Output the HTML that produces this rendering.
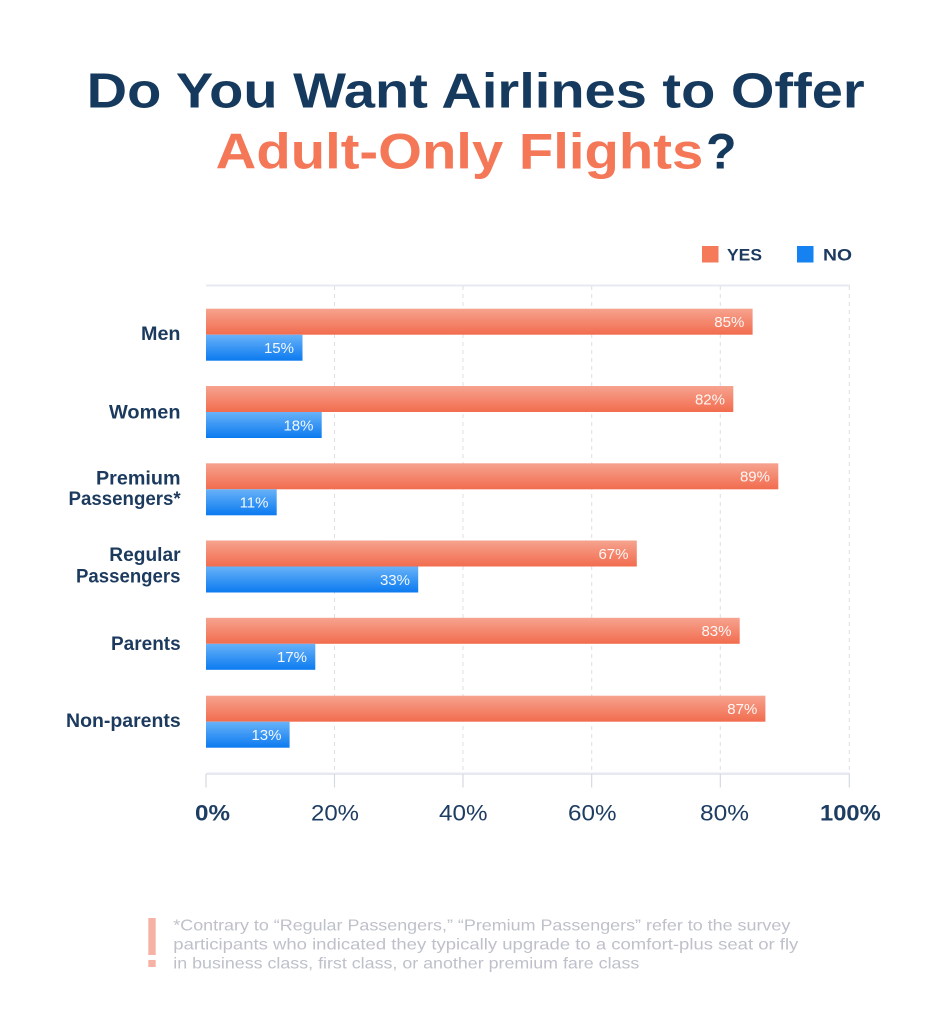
<!DOCTYPE html>
<html>
<head>
<meta charset="utf-8">
<style>
  html, body { margin: 0; padding: 0; background: #ffffff; }
  svg { display: block; font-family: "Liberation Sans", "DejaVu Sans", sans-serif; }
</style>
</head>
<body>
<svg width="950" height="1024" viewBox="0 0 950 1024" xmlns="http://www.w3.org/2000/svg">
  <defs>
    <linearGradient id="gy" x1="0" y1="0" x2="0" y2="1">
      <stop offset="0" stop-color="#f6a38f"/>
      <stop offset="1" stop-color="#f26c4e"/>
    </linearGradient>
    <linearGradient id="gn" x1="0" y1="0" x2="0" y2="1">
      <stop offset="0" stop-color="#68b2f8"/>
      <stop offset="1" stop-color="#0b7af0"/>
    </linearGradient>
  </defs>
  <rect x="0" y="0" width="950" height="1024" fill="#ffffff"/>

  <!-- Title -->
  <text x="86.7" y="107.3" font-size="49" font-weight="700" fill="#163a5e" textLength="778" lengthAdjust="spacingAndGlyphs">Do You Want Airlines to Offer</text>
  <text x="215.7" y="168.3" font-size="50" font-weight="700" fill="#f47858" textLength="487.6" lengthAdjust="spacingAndGlyphs">Adult-Only Flights</text>
  <text x="706" y="168.3" font-size="50" font-weight="700" fill="#163a5e">?</text>

  <!-- Legend -->
  <rect x="702" y="246" width="16.5" height="16.5" fill="#f47a5a"/>
  <text x="727" y="260.7" font-size="17" font-weight="700" fill="#1c3a5e" textLength="35" lengthAdjust="spacingAndGlyphs">YES</text>
  <rect x="797" y="246" width="16.5" height="16.5" fill="#1682f2"/>
  <text x="823" y="260.7" font-size="17" font-weight="700" fill="#1c3a5e" textLength="29" lengthAdjust="spacingAndGlyphs">NO</text>

  <!-- Grid -->
  <line x1="206" y1="285.5" x2="850" y2="285.5" stroke="#e7eaf0" stroke-width="2"/>
  <g stroke="#dcdfe6" stroke-width="1" stroke-dasharray="4,4">
    <line x1="334.5" y1="286" x2="334.5" y2="773"/>
    <line x1="463" y1="286" x2="463" y2="773"/>
    <line x1="591.7" y1="286" x2="591.7" y2="773"/>
    <line x1="720.3" y1="286" x2="720.3" y2="773"/>
    <line x1="849.3" y1="286" x2="849.3" y2="773"/>
  </g>
  <line x1="206" y1="773.7" x2="850" y2="773.7" stroke="#e6e9ef" stroke-width="2.5"/>
  <g stroke="#d5d9e0" stroke-width="1.2">
    <line x1="206" y1="774" x2="206" y2="787.5"/>
    <line x1="334.5" y1="774" x2="334.5" y2="787.5"/>
    <line x1="463" y1="774" x2="463" y2="787.5"/>
    <line x1="591.7" y1="774" x2="591.7" y2="787.5"/>
    <line x1="720.3" y1="774" x2="720.3" y2="787.5"/>
    <line x1="849.3" y1="774" x2="849.3" y2="787.5"/>
  </g>

  <!-- Bars -->
  <g>
    <rect x="206" y="308.7" width="546.6" height="26" fill="url(#gy)"/>
    <rect x="206" y="334.7" width="96.5" height="26" fill="url(#gn)"/>
    <rect x="206" y="386" width="527.3" height="26" fill="url(#gy)"/>
    <rect x="206" y="412" width="115.7" height="26" fill="url(#gn)"/>
    <rect x="206" y="463.3" width="572.3" height="26" fill="url(#gy)"/>
    <rect x="206" y="489.3" width="70.7" height="26" fill="url(#gn)"/>
    <rect x="206" y="540.5" width="430.8" height="26" fill="url(#gy)"/>
    <rect x="206" y="566.5" width="212.2" height="26" fill="url(#gn)"/>
    <rect x="206" y="617.8" width="533.7" height="26" fill="url(#gy)"/>
    <rect x="206" y="643.8" width="109.3" height="26" fill="url(#gn)"/>
    <rect x="206" y="695.7" width="559.4" height="26" fill="url(#gy)"/>
    <rect x="206" y="721.7" width="83.6" height="26" fill="url(#gn)"/>
  </g>

  <!-- Bar values -->
  <g font-size="15" fill="#ffffff" fill-opacity="0.93" text-anchor="end">
    <text x="744.3" y="327">85%</text>
    <text x="294" y="353">15%</text>
    <text x="725" y="404.4">82%</text>
    <text x="313.5" y="430.4">18%</text>
    <text x="770" y="481.7">89%</text>
    <text x="268.5" y="507.7">11%</text>
    <text x="628.5" y="558.9">67%</text>
    <text x="410" y="584.9">33%</text>
    <text x="731.5" y="636.2">83%</text>
    <text x="307" y="662.2">17%</text>
    <text x="757.3" y="714.1">87%</text>
    <text x="281.5" y="740.1">13%</text>
  </g>

  <!-- Category labels -->
  <g font-size="19" font-weight="700" fill="#1c3a5e">
    <text x="141" y="340.2" textLength="39.5" lengthAdjust="spacingAndGlyphs">Men</text>
    <text x="109" y="418.5" textLength="71.5" lengthAdjust="spacingAndGlyphs">Women</text>
    <text x="96" y="484.3" textLength="84.5" lengthAdjust="spacingAndGlyphs">Premium</text>
    <text x="68.5" y="505" textLength="112.2" lengthAdjust="spacingAndGlyphs">Passengers*</text>
    <text x="109.3" y="561" textLength="71.3" lengthAdjust="spacingAndGlyphs">Regular</text>
    <text x="76" y="582.3" textLength="104.5" lengthAdjust="spacingAndGlyphs">Passengers</text>
    <text x="111" y="650" textLength="69.7" lengthAdjust="spacingAndGlyphs">Parents</text>
    <text x="66" y="727" textLength="114.7" lengthAdjust="spacingAndGlyphs">Non-parents</text>
  </g>

  <!-- Axis tick labels -->
  <g font-size="22" fill="#1e3d62">
    <text x="195" y="820.7" font-weight="700" textLength="35" lengthAdjust="spacingAndGlyphs">0%</text>
    <text x="311" y="820.7" textLength="48" lengthAdjust="spacingAndGlyphs">20%</text>
    <text x="439" y="820.7" textLength="48.5" lengthAdjust="spacingAndGlyphs">40%</text>
    <text x="568" y="820.7" textLength="48.5" lengthAdjust="spacingAndGlyphs">60%</text>
    <text x="700" y="820.7" textLength="49" lengthAdjust="spacingAndGlyphs">80%</text>
    <text x="820" y="820.7" font-weight="700" textLength="60.7" lengthAdjust="spacingAndGlyphs">100%</text>
  </g>

  <!-- Footnote -->
  <rect x="148.3" y="918" width="7.4" height="37" fill="#f6b3a5"/>
  <rect x="148.3" y="960" width="7.4" height="7" fill="#f6b3a5"/>
  <g font-size="16" fill="#bec1ca">
    <text x="173.3" y="930.5" textLength="617" lengthAdjust="spacingAndGlyphs">*Contrary to “Regular Passengers,” “Premium Passengers” refer to the survey</text>
    <text x="173.3" y="949.5" textLength="625" lengthAdjust="spacingAndGlyphs">participants who indicated they typically upgrade to a comfort-plus seat or fly</text>
    <text x="173.3" y="968.5" textLength="466" lengthAdjust="spacingAndGlyphs">in business class, first class, or another premium fare class</text>
  </g>
</svg>
</body>
</html>
